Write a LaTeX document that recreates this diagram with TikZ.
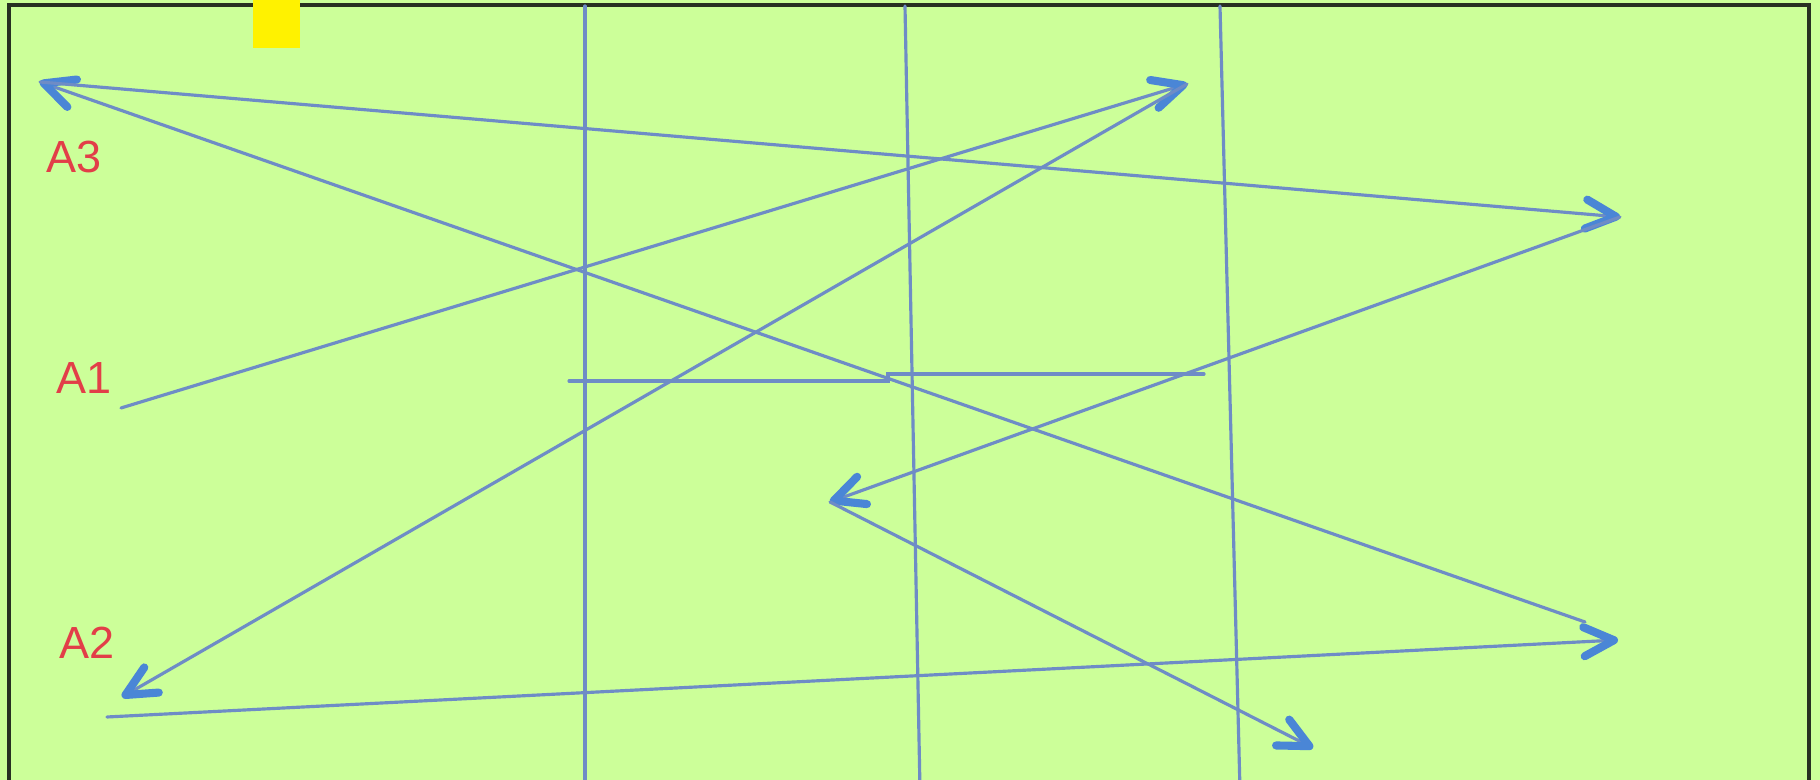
\documentclass[tikz,border=0pt]{standalone}
\usepackage{fontspec}
\setmainfont{Liberation Sans}
\usepackage{tikz}
\usetikzlibrary{arrows.meta}
\usepackage{xcolor}
\definecolor{pitch}{RGB}{204,255,153}
\definecolor{runline}{RGB}{110,140,198}
\definecolor{runtip}{RGB}{74,134,214}
\definecolor{playerred}{RGB}{226,62,72}
\definecolor{frameline}{RGB}{40,48,34}

\begin{document}
\begin{tikzpicture}[x=0.01cm,y=-0.01cm,line cap=round,
  run/.style={runline,line width=0.9pt,-{Straight Barb[length=3mm,width=2.9mm,line width=2.3pt,round,color=runtip]}},
  lane/.style={runline,line width=0.9pt},
  lbl/.style={text=playerred,font=\fontsize{12.8}{15}\selectfont,inner sep=0pt}]
\useasboundingbox (0,0) rectangle (1820,780);
\begin{scope}
\clip (0,0) rectangle (1820,780);
\fill[pitch] (0,0) rectangle (1820,780);
\draw[frameline,line width=1.2pt] (9,5) rectangle (1809,800);
\fill[yellow] (253,0) rectangle (300,48);
% lanes
\draw[lane] (585,6) -- (585,790);
\draw[lane] (905,6) -- (920,790);
\draw[lane] (1220,6) -- (1240,790);
\draw[lane] (569,381) -- (888,381) -- (888,374) -- (1204,374);
\end{scope}
% players
\node[lbl] (A3) at (74,157) {A3};
\node[lbl] (A1) at (84,378) {A1};
\node[lbl] (A2) at (87,643) {A2};
% runs
\coordinate (a1) at (121,408);
\coordinate (a2) at (107,717);
\coordinate (a3) at (40,82);
\coordinate (top) at (1187,84);
\coordinate (bl) at (122,697);
\coordinate (rt) at (1620,217);
\coordinate (rb) at (1618,640);
\coordinate (rbx) at (1585,622);
\coordinate (mid) at (830,502);
\coordinate (bot) at (1313,748);
\draw[run] (a1) -- (top);
\draw[run] (top) -- (bl);
\draw[run] (a2) -- (rb);
\draw[run] (rbx) -- (a3);
\draw[run] (a3) -- (rt);
\draw[run] (rt) -- (mid);
\draw[run] (mid) -- (bot);
\end{tikzpicture}
\end{document}
